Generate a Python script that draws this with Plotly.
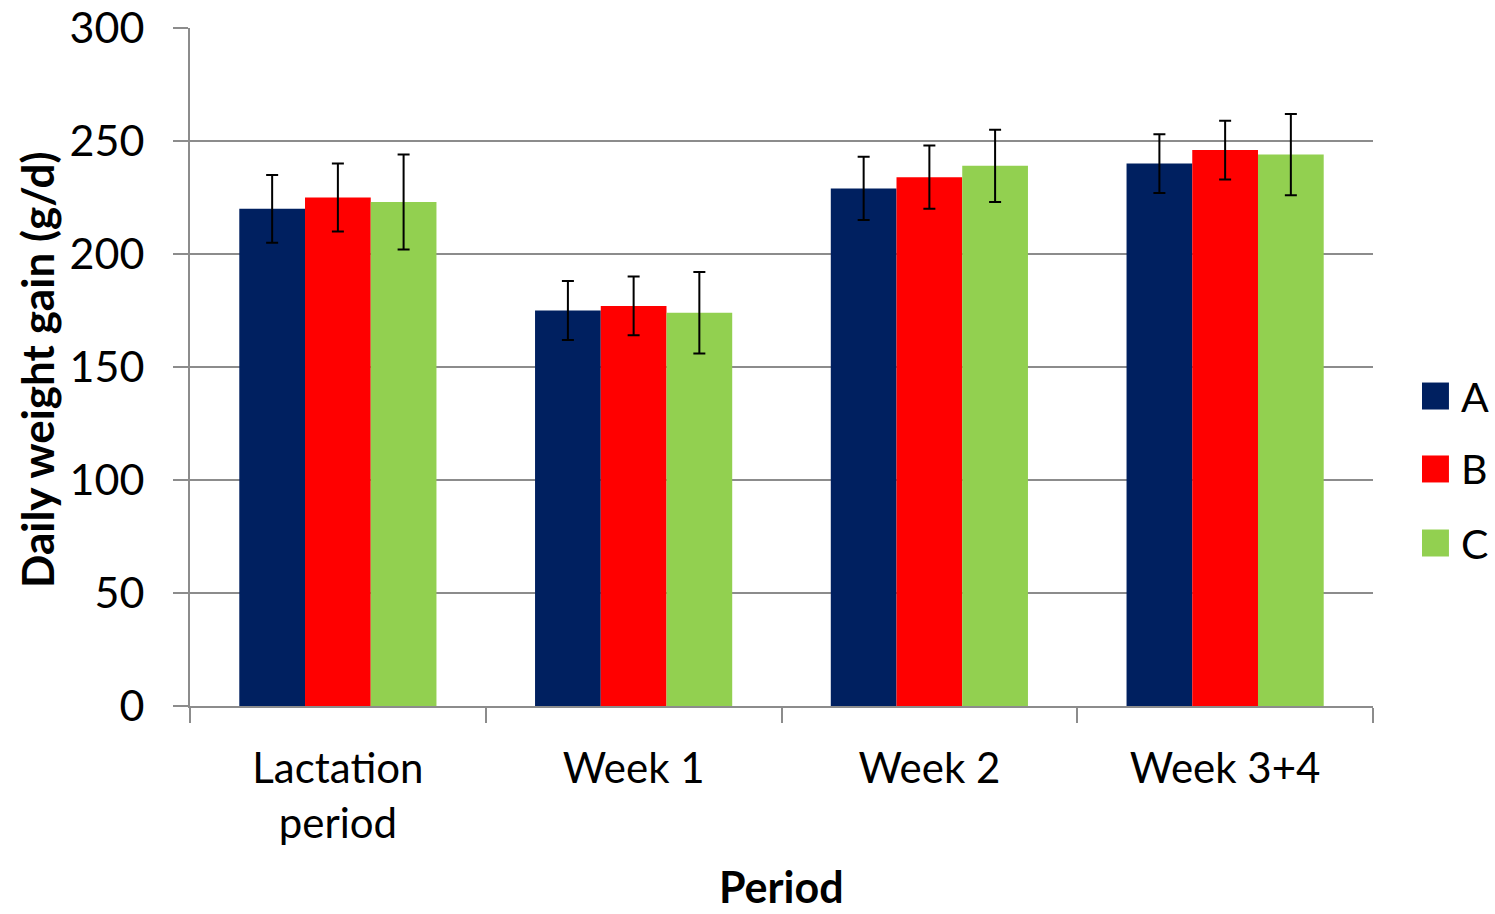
import plotly.graph_objects as go

categories = ["Lactation<br>period", "Week 1", "Week 2", "Week 3+4"]
series_names = ["A", "B", "C"]
values_A = [220, 175, 229, 240]
values_B = [225, 177, 234, 246]
values_C = [223, 174, 239, 244]
errors_A = [15, 13, 14, 13]
errors_B = [15, 13, 14, 13]
errors_C = [21, 18, 16, 18]
colors = ["#002060", "#FF0000", "#92D050"]
y_ticks = [0, 50, 100, 150, 200, 250, 300]

FONT = "Lato"
GRAY = "#8c8c8c"

fig = go.Figure()
for name, vals, errs, col in zip(series_names, [values_A, values_B, values_C],
                                 [errors_A, errors_B, errors_C], colors):
    fig.add_trace(go.Bar(
        x=categories, y=vals, name=name, marker=dict(color=col, line=dict(width=0)),
        error_y=dict(type="data", array=errs, color="black", thickness=2, width=6),
        showlegend=False,
    ))

# legend built from the series list
leg_y = [0.4572, 0.3496, 0.2404]
shapes = []
annotations = []
for name, col, yy in zip(series_names, colors, leg_y):
    shapes.append(dict(type="rect", xref="paper", yref="paper",
                       x0=1.0414, x1=1.0642, y0=yy - 0.0199, y1=yy + 0.0199,
                       fillcolor=col, line=dict(width=0)))
    annotations.append(dict(text=name, xref="paper", yref="paper", x=1.0727, y=yy,
                            xanchor="left", yanchor="middle", showarrow=False,
                            font=dict(family=FONT, size=41, color="black")))

annotations.append(dict(text="<b>Daily weight gain (g/d)</b>", xref="paper", yref="paper",
                        x=-0.1293, y=0.4956, textangle=-90, xanchor="center", yanchor="middle",
                        showarrow=False, font=dict(family=FONT, size=44, color="black")))
annotations.append(dict(text="<b>Period</b>", xref="paper", yref="paper",
                        x=0.5, y=-0.2655, xanchor="center", yanchor="middle",
                        showarrow=False, font=dict(family=FONT, size=43, color="black")))

fig.update_layout(
    width=1495, height=914,
    margin=dict(l=190, r=122, t=28, b=208, autoexpand=False),
    paper_bgcolor="white", plot_bgcolor="white",
    barmode="group", bargap=1/3, bargroupgap=0,
    font=dict(family=FONT, size=42, color="black"),
    shapes=shapes, annotations=annotations,
    xaxis=dict(showline=True, linecolor=GRAY, linewidth=2, ticks="outside",
               tickson="boundaries", ticklen=15, tickcolor=GRAY, tickwidth=2,
               showgrid=False, ticklabelstandoff=25,
               tickfont=dict(family=FONT, size=42, color="black")),
    yaxis=dict(range=[0, 300], tickvals=y_ticks, showline=True, linecolor=GRAY,
               linewidth=2, ticks="outside", ticklen=15, tickcolor=GRAY, tickwidth=2,
               showgrid=True, gridcolor=GRAY, gridwidth=2, zeroline=False,
               ticklabelstandoff=20, ticklabeloverflow="allow",
               tickfont=dict(family=FONT, size=43, color="black")),
)

fig.write_html("out.html", config={"displayModeBar": False},
               post_script="document.body.style.margin='0';")
